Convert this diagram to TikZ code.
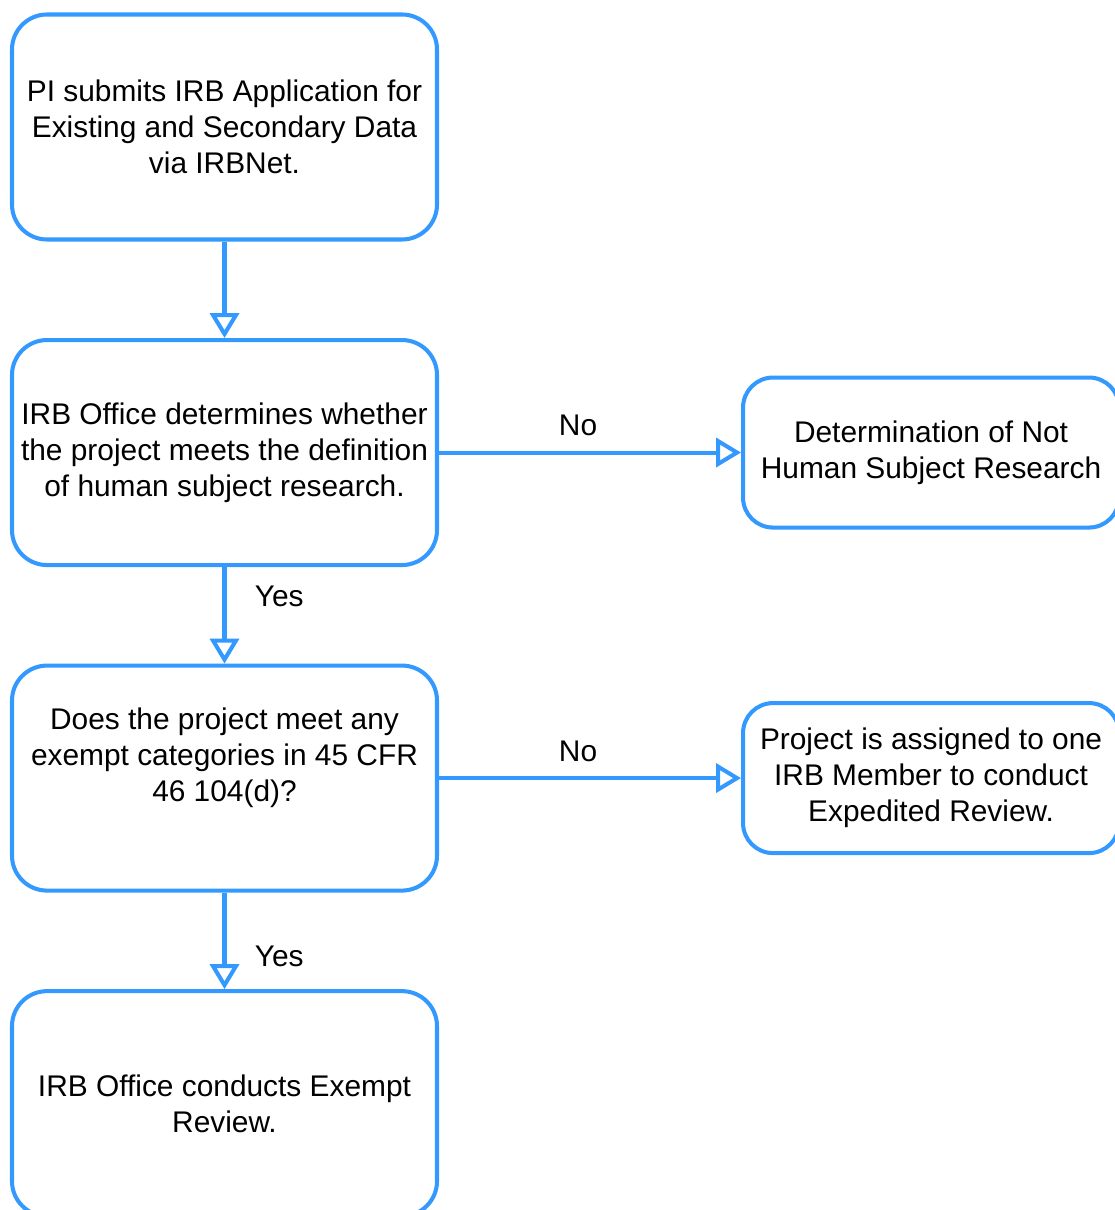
\documentclass[tikz,border=0pt]{standalone}
\usepackage{fontspec}
\setmainfont{Liberation Sans}
\usetikzlibrary{positioning, arrows.meta}

\definecolor{irbblue}{RGB}{51,153,255}

\begin{document}
\begin{tikzpicture}[node distance=1.93cm, >={Triangle[open, length=0.5cm, width=0.58cm]}, font=\fontsize{17}{20.5}\selectfont]
    % Styles
    \tikzstyle{stepbox} = [draw=irbblue, line width=2.3pt, rounded corners=0.7cm, fill=white, minimum width=8.5cm, minimum height=4.5cm, align=center]
    \tikzstyle{outbox} = [draw=irbblue, line width=2.3pt, rounded corners=0.6cm, fill=white, minimum width=7.52cm, minimum height=3cm, align=center]
    \tikzstyle{link} = [draw=irbblue, line width=2.3pt, ->]

    \useasboundingbox (0,0) rectangle (22.28,-24.2);

    % Nodes
    \node (submit) [stepbox] at (4.49,-2.54) {PI submits IRB Application for \\ Existing and Secondary Data \\ via IRBNet.};
    \node (human) [stepbox, below=of submit] {IRB Office determines whether \\ the project meets the definition \\ of human subject research.};
    \node (exempt) [stepbox, below=of human] {Does the project meet any \\ exempt categories in 45 CFR \\ 46 104(d)? \\ \strut};
    \node (review) [stepbox, below=of exempt] {IRB Office conducts Exempt \\ Review.};

    \node (nothsr) [outbox, right=6.04cm of human] {Determination of Not \\ Human Subject Research};
    \node (expedited) [outbox, right=6.04cm of exempt] {Project is assigned to one \\ IRB Member to conduct \\ Expedited Review.};

    % Paths
    \draw [link] (submit) -- (human);
    \draw [link] (human) -- node[above, black, yshift=0.17cm, xshift=-0.24cm] {No} (nothsr);
    \draw [link] (human) -- node[pos=0.3, right, black, xshift=0.45cm] {Yes} (exempt);
    \draw [link] (exempt) -- node[above, black, yshift=0.17cm, xshift=-0.24cm] {No} (expedited);
    \draw [link] (exempt) -- node[pos=0.66, right, black, xshift=0.45cm] {Yes} (review);

\end{tikzpicture}
\end{document}
